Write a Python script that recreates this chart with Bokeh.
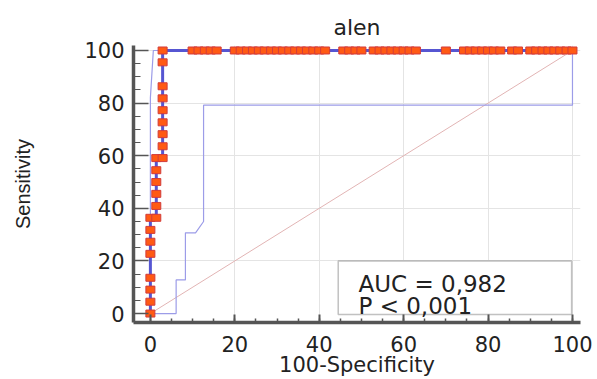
from bokeh.plotting import figure
from bokeh.models import (Range1d, SingleIntervalTicker, FixedTicker, Label, BoxAnnotation)
from bokeh.embed import file_html
from bokeh.resources import INLINE

# ---- data ----
title_text = "alen"
x_label = "100-Specificity"
y_label = "Sensitivity"
auc_text = "AUC = 0,982"
p_text = "P < 0,001"

# ROC step curve (100-Specificity, Sensitivity)
roc_x = [0, 0, 1.4, 1.4, 2.9, 2.9, 100]
roc_y = [0, 36.4, 36.4, 59.1, 59.1, 100, 100]

# criterion markers
mk_col_x = [0, 0, 0, 0, 0, 0, 0, 0,
            1.4, 1.4, 1.4, 1.4, 1.4, 1.4,
            2.9, 2.9, 2.9, 2.9, 2.9, 2.9, 2.9, 2.9, 2.9]
mk_col_y = [0, 4.5, 9.1, 13.6, 22.7, 27.3, 31.8, 36.4,
            36.4, 40.9, 45.5, 50.0, 54.5, 59.1,
            59.1, 63.6, 68.2, 72.7, 77.3, 81.8, 86.4, 95.5, 100]
mk_top_x = [10.0, 11.4, 12.9, 14.3, 15.7,
            20.0, 21.4, 22.9, 24.3, 25.7, 27.1, 28.6, 30.0, 31.4, 32.9, 34.3, 35.7, 37.1, 38.6, 40.0, 41.4,
            45.7, 47.1, 48.6, 50.0,
            52.9, 54.3, 55.7, 57.1, 58.6, 60.0, 61.4, 62.9,
            70.0,
            74.3, 75.7, 77.1, 78.6, 80.0, 81.4, 82.9,
            85.7, 87.1,
            90.0, 91.4, 92.9, 94.3, 95.7, 97.1, 98.6, 100.0]
mk_top_y = [100] * len(mk_top_x)

# confidence bounds (thin lines)
upper_x = [0, 0, 0.7, 100]
upper_y = [0, 82, 100, 100]
lower_x = [0, 6.1, 6.1, 8.3, 8.3, 10.7, 12.6, 12.6, 100, 100]
lower_y = [0, 0, 12.8, 12.8, 30.7, 30.7, 35.0, 79.2, 79.2, 100]

# reference diagonal
diag_x = [0, 100]
diag_y = [0, 100]

# legend box extents (data units)
box_left, box_right, box_bottom, box_top = 44.5, 99.8, -0.4, 20.0

# ---- figure ----
FONT = "DejaVu Sans"
TXT = "#222222"
AX = "#555555"

p = figure(width=597, height=379, output_backend="svg", toolbar_location=None,
           x_range=Range1d(-4.0, 101.9), y_range=Range1d(-3.4, 101.9),
           min_border_left=133, min_border_right=17, min_border_top=45, min_border_bottom=55,
           title=title_text)
p.outline_line_color = None
p.background_fill_color = "white"
p.border_fill_color = "white"

p.title.align = "center"
p.title.text_font = FONT
p.title.text_font_size = "22px"
p.title.text_font_style = "normal"
p.title.text_color = TXT
p.title.standoff = 11

for ax in (p.xaxis[0], p.yaxis[0]):
    ax.ticker = SingleIntervalTicker(interval=20, num_minor_ticks=4)
    ax.axis_line_color = AX
    ax.axis_line_width = 3.5
    ax.major_tick_line_color = AX
    ax.minor_tick_line_color = AX
    ax.major_tick_out = 0
    ax.minor_tick_out = 0
    ax.major_label_text_font = FONT
    ax.major_label_text_font_size = "21px"
    ax.major_label_text_color = TXT

p.xaxis.major_tick_in = 8
p.xaxis.minor_tick_in = 4
p.xaxis.major_tick_line_width = 2
p.xaxis.minor_tick_line_width = 1.5
p.xaxis.major_label_standoff = 13
p.xaxis.axis_label = x_label
p.xaxis.axis_label_text_font = FONT
p.xaxis.axis_label_text_font_size = "21px"
p.xaxis.axis_label_text_font_style = "normal"
p.xaxis.axis_label_text_color = TXT
p.xaxis.axis_label_standoff = -2

p.yaxis.major_tick_in = 15
p.yaxis.minor_tick_in = 7
p.yaxis.major_tick_line_width = 1.5
p.yaxis.minor_tick_line_width = 1.2
p.yaxis.major_label_standoff = 9
p.yaxis.axis_label = y_label
p.yaxis.axis_label_text_font = "Liberation Sans"
p.yaxis.axis_label_text_font_size = "20px"
p.yaxis.axis_label_text_font_style = "normal"
p.yaxis.axis_label_text_color = TXT
p.yaxis.axis_label_standoff = 47

p.xgrid.ticker = FixedTicker(ticks=[20, 40, 60, 80, 100])
p.ygrid.ticker = FixedTicker(ticks=[20, 40, 60, 80, 100])
p.xgrid.grid_line_color = "#e4e4e4"
p.ygrid.grid_line_color = "#e4e4e4"
p.xgrid.grid_line_width = 1
p.ygrid.grid_line_width = 1

# diagonal
p.line(diag_x, diag_y, line_color="#e2b4b4", line_width=1)
# confidence bounds
p.line(upper_x, upper_y, line_color="#9c9ce8", line_width=1.2)
p.line(lower_x, lower_y, line_color="#9c9ce8", line_width=1.2)
# ROC curve
p.line(roc_x, roc_y, line_color="#5656d2", line_width=3)
# markers
for xs, ys in ((mk_col_x, mk_col_y), (mk_top_x, mk_top_y)):
    p.rect(xs, ys, width=9, height=7, width_units="screen", height_units="screen",
           fill_color="#ff5a14", line_color="#d23c3c", line_width=1)

# legend box and its text
p.add_layout(BoxAnnotation(left=box_left, right=box_right, bottom=box_bottom, top=box_top,
                           fill_color="white", fill_alpha=1.0,
                           line_color="#333333", line_width=1.5, level="glyph"))
p.add_layout(Label(x=49.3, y=11.3, text=auc_text, text_font=FONT, text_font_size="23px",
                   text_color=TXT, text_baseline="alphabetic", text_align="left", level="overlay"))
p.add_layout(Label(x=49.3, y=3.0, text=p_text, text_font=FONT, text_font_size="23px",
                   text_color=TXT, text_baseline="alphabetic", text_align="left", level="overlay"))

open("out.html", "w").write(file_html(p, INLINE))
